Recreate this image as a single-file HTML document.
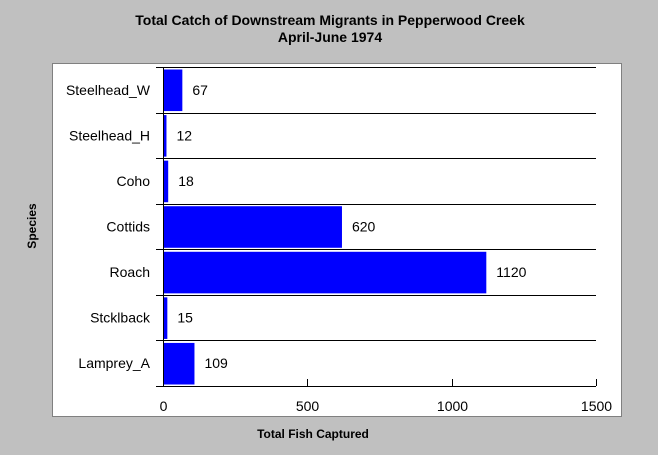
<!DOCTYPE html>
<html><head><meta charset="utf-8"><style>
body{margin:0;width:658px;height:455px;background:#c0c0c0;font-family:"Liberation Sans",sans-serif;overflow:hidden}
svg{display:block}
</style></head><body>
<svg width="658" height="455">
<text x="330" y="25" text-anchor="middle" font-size="14" font-weight="bold">Total Catch of Downstream Migrants in Pepperwood Creek</text>
<text x="330" y="42" text-anchor="middle" font-size="14" font-weight="bold">April-June 1974</text>
<rect x="52.5" y="63.5" width="569" height="353" fill="#fff" stroke="#808080"/>
<text transform="translate(36,226) rotate(-90)" text-anchor="middle" font-size="12" font-weight="bold">Species</text>
<text x="313" y="438" text-anchor="middle" font-size="12" font-weight="bold">Total Fish Captured</text>
<g id="g"></g>
</svg>
<script>
const categories=["Steelhead_W","Steelhead_H","Coho","Cottids","Roach","Stcklback","Lamprey_A"];
const values=[67,12,18,620,1120,15,109];
const ticks=[0,500,1000,1500];
const X0=163,X1=596,T=67,B=386,MAX=1500;
const x=v=>X0+(X1-X0)*v/MAX;
const rh=(B-T)/categories.length;
const g=document.getElementById('g');
const NS='http://www.w3.org/2000/svg';
function mk(t,a){const e=document.createElementNS(NS,t);for(const k in a)e.setAttribute(k,a[k]);g.appendChild(e);return e;}
for(let i=0;i<=categories.length;i++){
 const y=Math.round(T+i*rh)+0.5;
 const l=mk('line',{x1:156,x2:X1,y1:y,y2:y,stroke:'#000'});
 
 
}
categories.forEach((c,i)=>{
 const y0=T+i*rh;
 const r=mk('rect',{x:X0,y:y0+2.5,width:Math.max(1,x(values[i])-X0),height:rh-4,fill:'#0000ff'});
 
 
 const lb=mk('text',{x:150,y:y0+rh/2+5,'text-anchor':'end','font-size':14});
 lb.textContent=c;
 
 
 const vl=mk('text',{x:x(values[i])+10,y:y0+rh/2+5,'font-size':14});
 vl.textContent=values[i];
 
 
});
const ax=mk('line',{x1:X0+0.5,x2:X0+0.5,y1:T,y2:B+1,stroke:'#000'});


ticks.forEach(t=>{
 const tx=Math.round(x(t))+0.5;
 const tk=mk('line',{x1:tx,x2:tx,y1:B-7,y2:B,stroke:'#000'});
 
 
 const tl=mk('text',{x:tx,y:B+25,'text-anchor':'middle','font-size':14});
 tl.textContent=t;
 
 
});
</script>
</body></html>
